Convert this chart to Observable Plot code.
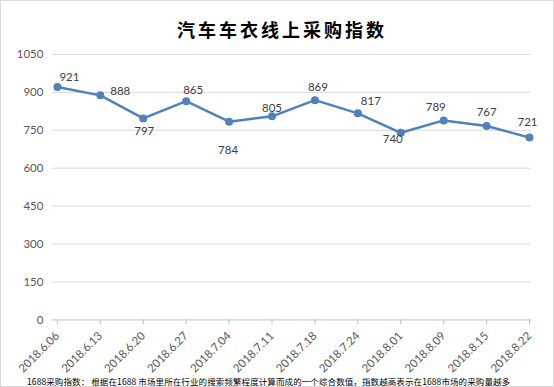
<!DOCTYPE html>
<html><head><meta charset="utf-8">
<script src="https://cdn.jsdelivr.net/npm/d3@7"></script>
<script src="https://cdn.jsdelivr.net/npm/@observablehq/plot@0.6"></script>
<style>
body{margin:0;background:#fff}
#wrap{position:relative;width:554px;height:387px;box-sizing:border-box;border:1px solid #d9d9d9;overflow:hidden;background:#fff}
#chart{position:absolute;left:-1px;top:-1px}
#title{position:absolute;left:4px;width:554px;top:15px;text-align:center;font:bold 18px "Noto Sans CJK SC";letter-spacing:3px;color:#000}
#note{position:absolute;left:26px;top:374px;font:8.5px "Noto Sans CJK SC";letter-spacing:0.1px;white-space:nowrap;color:#000;line-height:12px}
</style></head><body>
<div id="wrap"><div id="chart"></div><div id="title">汽车车衣线上采购指数</div><div id="note">1688采购指数： 根据在1688 市场里所在行业的搜索频繁程度计算而成的一个综合数值，指数越高表示在1688市场的采购量越多</div></div>
<script>
const dates = ["2018.6.06","2018.6.13","2018.6.20","2018.6.27","2018.7.04","2018.7.11","2018.7.18","2018.7.24","2018.8.01","2018.8.09","2018.8.15","2018.8.22"];
const values = [921,888,797,865,784,805,869,817,740,789,767,721];
const yTicks = [0,150,300,450,600,750,900,1050];
const data = dates.map((d,i)=>({date:d, value:values[i]}));
// label offsets (style only)
const labelOffsets = [[12,-10],[20,-4],[1,13],[7,-11],[-1,29],[0,-8],[3,-13],[13,-12],[-8,7],[-8,-13],[0,-14],[-2,-15]];

const labelMarks = data.map((d,i)=>Plot.text([d], {x:"date", y:"value", text:v=>String(v.value), dx:labelOffsets[i][0], dy:labelOffsets[i][1], fill:"#404040", fontSize:11.5}));

const chart = Plot.plot({
  width:554, height:387, marginTop:54, marginBottom:67, marginLeft:55, marginRight:22,
  style:{fontFamily:"Lato, 'Noto Sans CJK SC', sans-serif", fontSize:"11px", color:"#595959", background:"transparent"},
  x:{type:"point", domain:dates, padding:0},
  y:{domain:[0,1050]},
  marks:[
    Plot.ruleY(yTicks.slice(1), {stroke:"#d9d9d9", insetLeft:-3}),
    Plot.ruleY([0], {stroke:"#bfbfbf", insetLeft:-3}),
    Plot.axisY({ticks:yTicks, tickFormat:d=>String(d), tickSize:0, tickPadding:12, label:null, fill:"#595959", fontSize:11.5}),
    Plot.axisX({tickRotate:-45, tickSize:5, tickPadding:9, stroke:"#bfbfbf", label:null, fill:"#595959", fontSize:11.5, style:{letterSpacing:"0.4px"}}),
    Plot.line(data, {x:"date", y:"value", stroke:"#4F81BD", strokeWidth:2.5}),
    Plot.dot(data, {x:"date", y:"value", r:4, fill:"#4F81BD"}),
    ...labelMarks
  ]
});
document.getElementById("chart").appendChild(chart);
</script>
</body></html>
